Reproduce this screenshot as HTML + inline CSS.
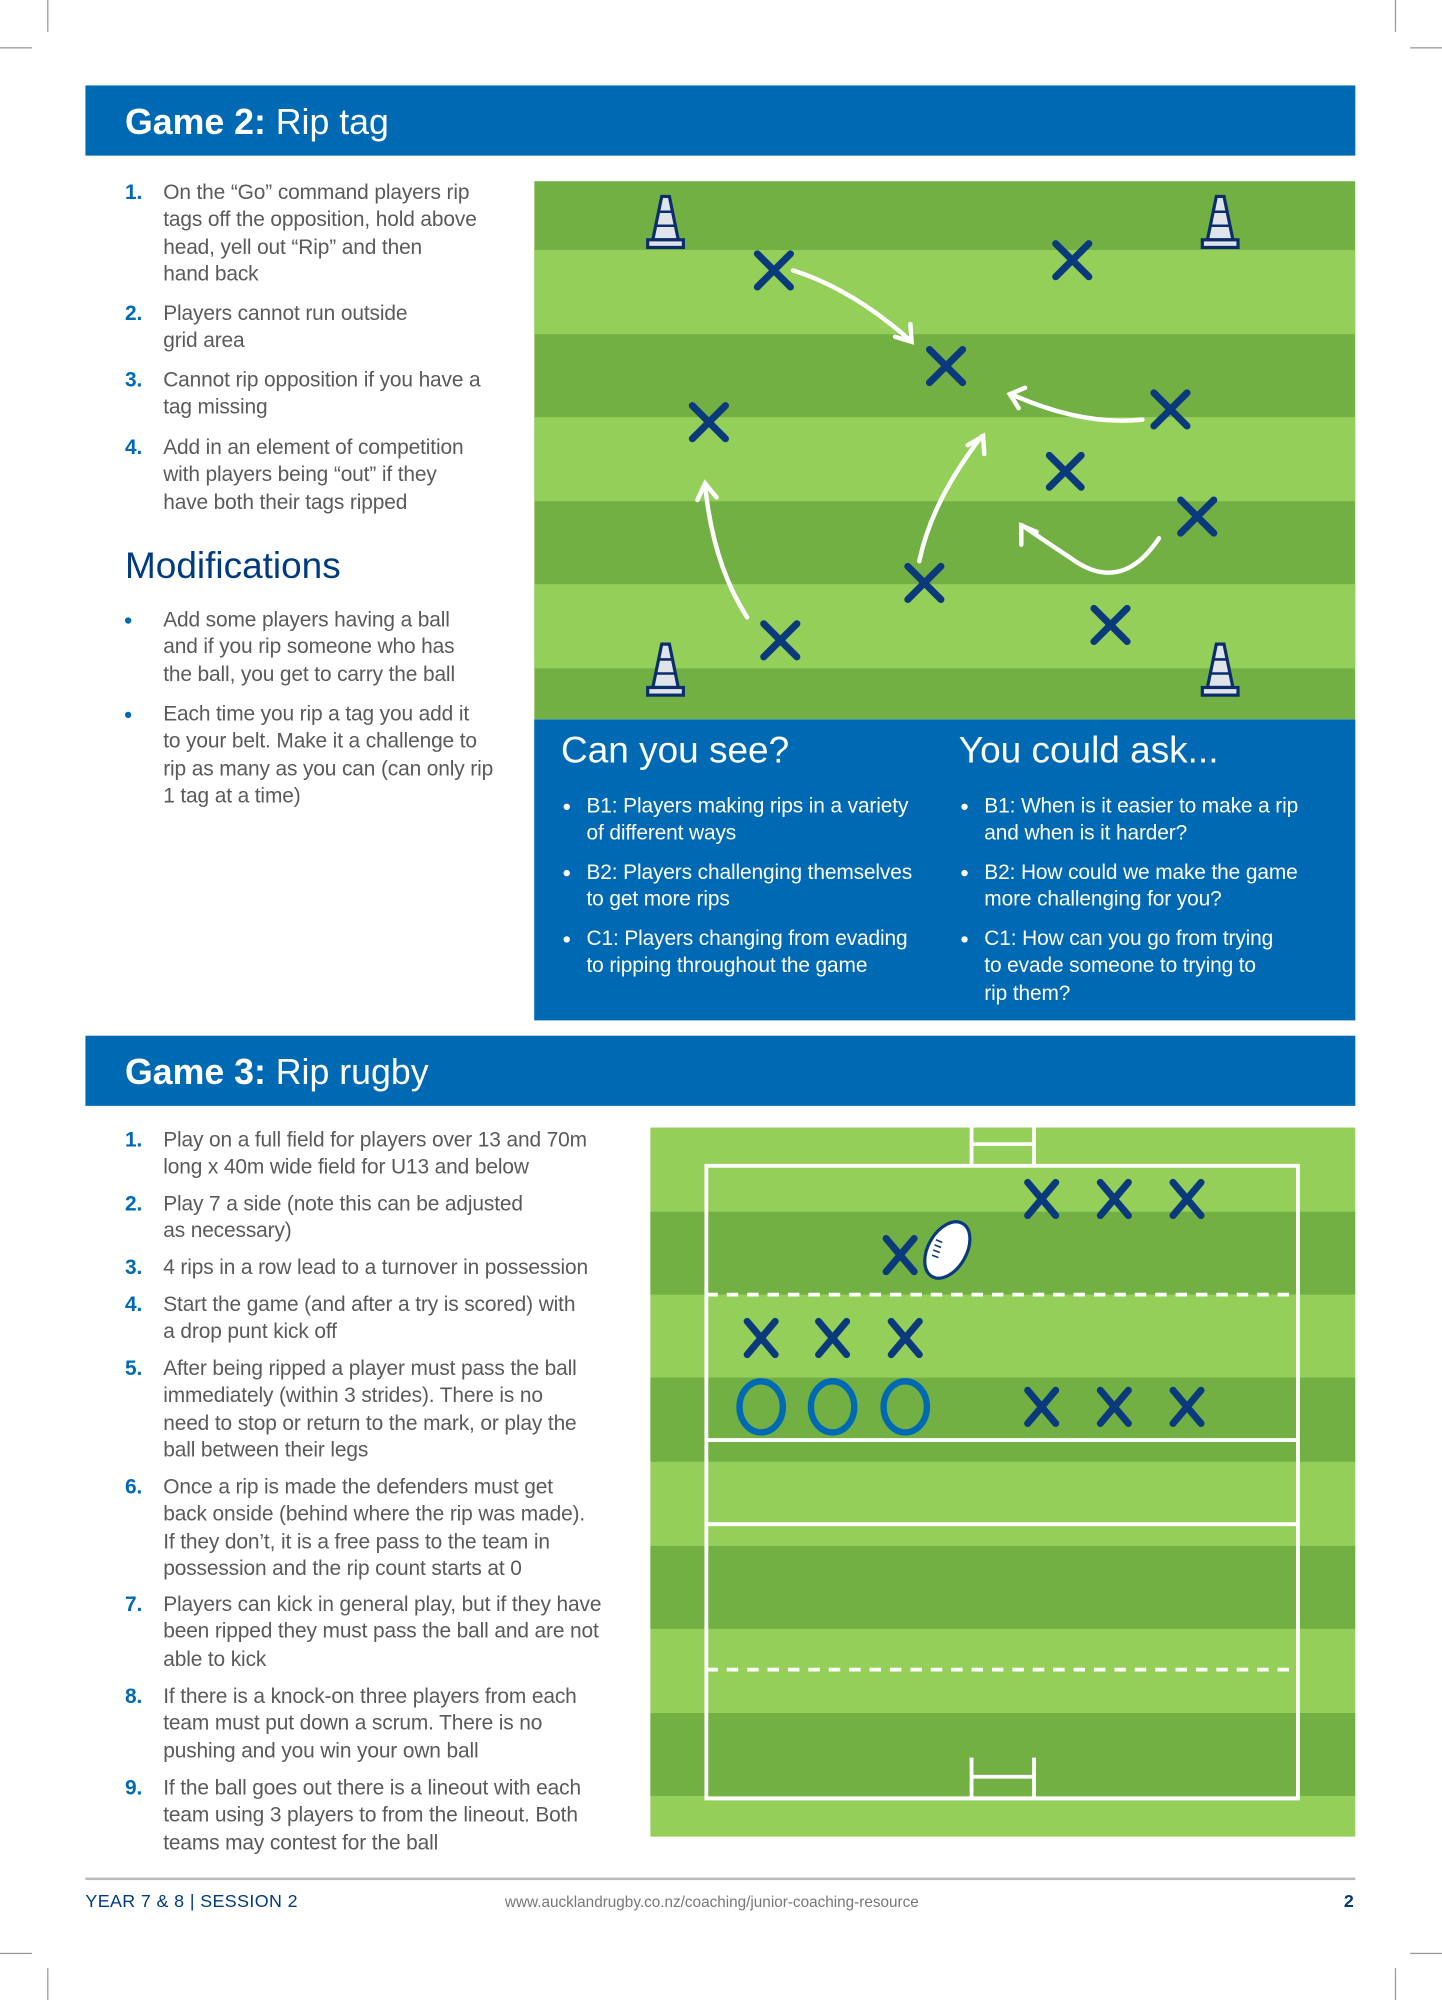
<!DOCTYPE html>
<html><head><meta charset="utf-8"><style>
*{margin:0;padding:0;box-sizing:border-box}
body{width:1442px;height:2000px;overflow:hidden;background:#fff;font-family:"Liberation Sans",sans-serif}
#w{position:absolute;left:0;top:0;width:1131px;height:1568px;transform-origin:0 0;transform:scale(1.275,1.2755)}
.a{position:absolute}
.hdr{position:absolute;left:67px;width:996px;height:55px;background:#0069b4;color:#fff;font-size:28px;padding-left:31px;line-height:57px}
.hdr b{font-weight:bold}
.it{position:absolute;left:98px;font-size:16.4px;line-height:21.3px;color:#5a5a5a;white-space:nowrap;letter-spacing:-0.1px;margin-top:2px}
.it .n{position:absolute;left:0;top:0;color:#0069b4;font-weight:bold}
.it .t{position:absolute;left:30px;top:0}
.bl{position:absolute;font-size:16.4px;line-height:21.3px;color:#fff;white-space:nowrap;letter-spacing:-0.1px;margin-top:2px}
.bl:before{content:"";position:absolute;left:-18px;top:8px;width:5px;height:5px;border-radius:50%;background:#fff}
.mb:before{content:"";position:absolute;left:-30px;top:8px;width:5px;height:5px;border-radius:50%;background:#0069b4}
</style></head><body><div id="w">
<div class="a" style="left:37px;top:0;width:1px;height:25px;background:#999"></div>
<div class="a" style="left:1094px;top:0;width:1px;height:25px;background:#999"></div>
<div class="a" style="left:0;top:37px;width:25px;height:1px;background:#999"></div>
<div class="a" style="left:1106px;top:37px;width:25px;height:1px;background:#999"></div>
<div class="a" style="left:37px;top:1543px;width:1px;height:25px;background:#999"></div>
<div class="a" style="left:1094px;top:1543px;width:1px;height:25px;background:#999"></div>
<div class="a" style="left:0;top:1531px;width:25px;height:1px;background:#999"></div>
<div class="a" style="left:1106px;top:1531px;width:25px;height:1px;background:#999"></div>

<div class="hdr" style="top:67px"><b>Game 2:</b> Rip tag</div>

<div class="it" style="top:139px;width:310px"><span class="n">1.</span><span class="t">On the “Go” command players rip<br>tags off the opposition, hold above<br>head, yell out “Rip” and then<br>hand back</span></div>
<div class="it" style="top:234px"><span class="n">2.</span><span class="t">Players cannot run outside<br>grid area</span></div>
<div class="it" style="top:286px"><span class="n">3.</span><span class="t">Cannot rip opposition if you have a<br>tag missing</span></div>
<div class="it" style="top:339px"><span class="n">4.</span><span class="t">Add in an element of competition<br>with players being “out” if they<br>have both their tags ripped</span></div>
<div class="a" style="left:98px;top:428px;font-size:29px;color:#003a80">Modifications</div>
<div class="it" style="top:474px"><span class="t mb" style="position:absolute">Add some players having a ball<br>and if you rip someone who has<br>the ball, you get to carry the ball</span></div>
<div class="it" style="top:548px"><span class="t mb" style="position:absolute">Each time you rip a tag you add it<br>to your belt. Make it a challenge to<br>rip as many as you can (can only rip<br>1 tag at a time)</span></div>

<svg class="a" style="left:419px;top:142px" width="644" height="422" viewBox="0 0 644 422">
<rect width="644" height="422" fill="#72b043"/>
<rect y="54" width="644" height="66" fill="#94cf5a"/>
<rect y="185" width="644" height="66" fill="#94cf5a"/>
<rect y="316" width="644" height="66" fill="#94cf5a"/>
<g id="cone"><path d="M100 12 L106 12 L113 46 L93 46 Z" fill="#dfe3ea" stroke="#0b2d6b" stroke-width="2.5"/><rect x="89" y="46" width="28" height="6" fill="#dfe3ea" stroke="#0b2d6b" stroke-width="2.5"/><line x1="97" y1="24" x2="109" y2="24" stroke="#0b2d6b" stroke-width="2"/><line x1="95" y1="35" x2="111" y2="35" stroke="#0b2d6b" stroke-width="2"/></g>
<use href="#cone" x="435"/><use href="#cone" y="351"/><use href="#cone" x="435" y="351"/>
<g stroke="#0b3a7c" stroke-width="5.5" stroke-linecap="round">
<path d="M175 57l26 26M201 57l-26 26"/><path d="M409 49l26 26M435 49l-26 26"/><path d="M310 132l26 26M336 132l-26 26"/><path d="M124 176l26 26M150 176l-26 26"/><path d="M486 166l26 26M512 166l-26 26"/><path d="M404 215l25 25M429 215l-25 25"/><path d="M507 250l26 26M533 250l-26 26"/><path d="M293 302l26 26M319 302l-26 26"/><path d="M180 347l26 26M206 347l-26 26"/><path d="M439 335l26 26M465 335l-26 26"/>
</g>
<g stroke="#fff" stroke-width="3.5" fill="none" stroke-linecap="round">
<path d="M203 70 Q250 85 295 125"/><path d="M283 122 L296 126 L295 112"/>
<path d="M477 187 Q430 192 374 167"/><path d="M380 178 L373 167 L385 162"/>
<path d="M302 298 Q312 250 351 200"/><path d="M340 207 L352 200 L353 214"/>
<path d="M167 342 Q140 300 134 238"/><path d="M128 250 L134 237 L143 248"/>
<path d="M490 280 Q460 325 420 295 Q390 275 383 270"/><path d="M382 285 L382 270 L394 275"/>
</g></svg>

<div class="a" style="left:419px;top:564px;width:644px;height:236px;background:#0069b4"></div>
<div class="a" style="left:440px;top:573px;font-size:29px;color:#fff">Can you see?</div>
<div class="a" style="left:752px;top:573px;font-size:29px;color:#fff">You could ask...</div>
<div class="bl" style="left:460px;top:620px">B1: Players making rips in a variety<br>of different ways</div>
<div class="bl" style="left:460px;top:672px">B2: Players challenging themselves<br>to get more rips</div>
<div class="bl" style="left:460px;top:724px">C1: Players changing from evading<br>to ripping throughout the game</div>
<div class="bl" style="left:772px;top:620px">B1: When is it easier to make a rip<br>and when is it harder?</div>
<div class="bl" style="left:772px;top:672px">B2: How could we make the game<br>more challenging for you?</div>
<div class="bl" style="left:772px;top:724px">C1: How can you go from trying<br>to evade someone to trying to<br>rip them?</div>

<div class="hdr" style="top:812px"><b>Game 3:</b> Rip rugby</div>

<div class="it" style="top:882px"><span class="n">1.</span><span class="t">Play on a full field for players over 13 and 70m<br>long x 40m wide field for U13 and below</span></div>
<div class="it" style="top:932px"><span class="n">2.</span><span class="t">Play 7 a side (note this can be adjusted<br>as necessary)</span></div>
<div class="it" style="top:982px"><span class="n">3.</span><span class="t">4 rips in a row lead to a turnover in possession</span></div>
<div class="it" style="top:1011px"><span class="n">4.</span><span class="t">Start the game (and after a try is scored) with<br>a drop punt kick off</span></div>
<div class="it" style="top:1061px"><span class="n">5.</span><span class="t">After being ripped a player must pass the ball<br>immediately (within 3 strides). There is no<br>need to stop or return to the mark, or play the<br>ball between their legs</span></div>
<div class="it" style="top:1154px"><span class="n">6.</span><span class="t">Once a rip is made the defenders must get<br>back onside (behind where the rip was made).<br>If they don’t, it is a free pass to the team in<br>possession and the rip count starts at 0</span></div>
<div class="it" style="top:1246px"><span class="n">7.</span><span class="t">Players can kick in general play, but if they have<br>been ripped they must pass the ball and are not<br>able to kick</span></div>
<div class="it" style="top:1318px"><span class="n">8.</span><span class="t">If there is a knock-on three players from each<br>team must put down a scrum. There is no<br>pushing and you win your own ball</span></div>
<div class="it" style="top:1390px"><span class="n">9.</span><span class="t">If the ball goes out there is a lineout with each<br>team using 3 players to from the lineout. Both<br>teams may contest for the ball</span></div>

<svg class="a" style="left:510px;top:884px" width="553" height="556" viewBox="0 0 553 556">
<rect width="553" height="556" fill="#94cf5a"/>
<rect y="66" width="553" height="65" fill="#72b043"/>
<rect y="196" width="553" height="66" fill="#72b043"/>
<rect y="328" width="553" height="65" fill="#72b043"/>
<rect y="459" width="553" height="65" fill="#72b043"/>
<g stroke="#fff" stroke-width="3" fill="none">
<rect x="44" y="30" width="464" height="496"/>
<line x1="44" y1="245" x2="508" y2="245"/><line x1="44" y1="311" x2="508" y2="311"/>
<line x1="44" y1="131" x2="508" y2="131" stroke-dasharray="9 7"/><line x1="44" y1="425" x2="508" y2="425" stroke-dasharray="9 7"/>
<path d="M252 0V30M301 0V30M252 13H301"/><path d="M252 494V526M301 494V526M252 509H301"/>
</g>
<g stroke="#0b3a7c" stroke-width="5.5" stroke-linecap="round">
<path d="M296 43l22 26M318 43l-22 26"/><path d="M353 43l22 26M375 43l-22 26"/><path d="M410 43l22 26M432 43l-22 26"/>
<path d="M185 87l22 26M207 87l-22 26"/>
<path d="M76 152l22 26M98 152l-22 26"/><path d="M132 152l22 26M154 152l-22 26"/><path d="M189 152l22 26M211 152l-22 26"/>
<path d="M296 206l22 26M318 206l-22 26"/><path d="M353 206l22 26M375 206l-22 26"/><path d="M410 206l22 26M432 206l-22 26"/>
</g>
<ellipse cx="233" cy="96" rx="15" ry="24" transform="rotate(30 233 96)" fill="#fff" stroke="#0b3a7c" stroke-width="2.5"/>
<g stroke="#0b3a7c" stroke-width="1.3"><path d="M222 96l5 2M223 92l5 2M224 88l5 2M221 100l5 2"/></g>
<g stroke="#0069b4" stroke-width="5" fill="none">
<ellipse cx="87" cy="219" rx="17" ry="20"/><ellipse cx="143" cy="219" rx="17" ry="20"/><ellipse cx="200" cy="219" rx="17" ry="20"/>
</g></svg>

<div class="a" style="left:67px;top:1472px;width:996px;height:2px;background:#bbb"></div>
<div class="a" style="left:67px;top:1482px;font-size:14px;color:#003a80;letter-spacing:0.3px">YEAR 7 &amp; 8 | SESSION 2</div>
<div class="a" style="left:396px;top:1484px;font-size:12px;color:#777">www.aucklandrugby.co.nz/coaching/junior-coaching-resource</div>
<div class="a" style="left:1054px;top:1482px;font-size:14px;color:#003a80;font-weight:bold">2</div>
</div></body></html>
